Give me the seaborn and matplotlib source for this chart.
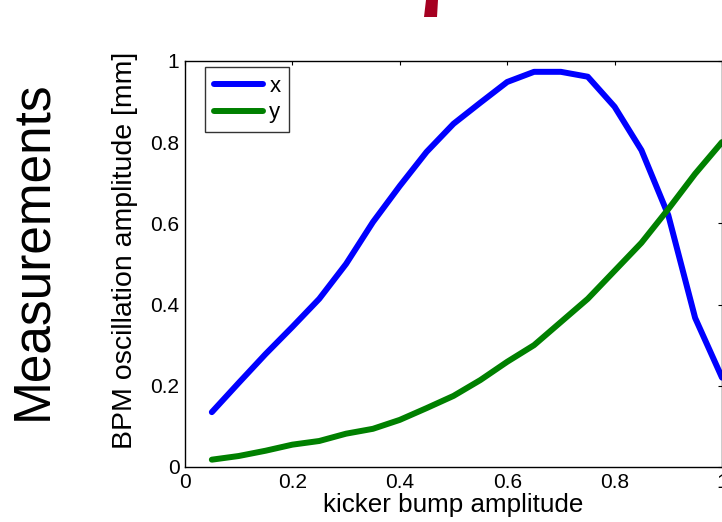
import matplotlib
matplotlib.use("Agg")
import matplotlib.pyplot as plt
from matplotlib.patches import Polygon
import seaborn as sns
import pandas as pd

kicker = [0.05, 0.10, 0.15, 0.20, 0.25, 0.30, 0.35, 0.40, 0.45, 0.50,
          0.55, 0.60, 0.65, 0.70, 0.75, 0.80, 0.85, 0.90, 0.95, 1.00]
amp_x = [0.135, 0.207, 0.278, 0.345, 0.414, 0.500, 0.603, 0.692, 0.776, 0.845,
         0.897, 0.948, 0.973, 0.973, 0.961, 0.887, 0.780, 0.620, 0.367, 0.220]
amp_y = [0.018, 0.027, 0.040, 0.055, 0.064, 0.082, 0.094, 0.116, 0.145, 0.175,
         0.214, 0.259, 0.300, 0.357, 0.414, 0.483, 0.552, 0.635, 0.722, 0.800]
series_names = ["x", "y"]
xticks = [0, 0.2, 0.4, 0.6, 0.8, 1]
yticks = [0, 0.2, 0.4, 0.6, 0.8, 1]
tick_labels = ["0", "0.2", "0.4", "0.6", "0.8", "1"]

df = pd.DataFrame({
    "kicker": kicker * 2,
    "amp": amp_x + amp_y,
    "series": [series_names[0]] * len(kicker) + [series_names[1]] * len(kicker),
})

sns.set_style("white")
plt.rcParams["font.family"] = ["Liberation Sans", "DejaVu Sans"]
plt.rcParams["text.color"] = "black"
plt.rcParams["axes.labelcolor"] = "black"
plt.rcParams["xtick.color"] = "black"
plt.rcParams["ytick.color"] = "black"

fig = plt.figure(figsize=(7.22, 5.22), dpi=100)
ax = fig.add_axes([0.2562, 0.1054, 0.7438, 0.778])

sns.lineplot(data=df, x="kicker", y="amp", hue="series",
             palette={"x": "#0000ff", "y": "#008000"},
             linewidth=4.3, ax=ax, legend=True)

ax.set_xlim(0, 1)
ax.set_ylim(0, 1)
ax.set_xticks(xticks)
ax.set_yticks(yticks)
ax.set_xticklabels(tick_labels, fontsize=15)
ax.set_yticklabels(tick_labels, fontsize=15)
ax.tick_params(direction="in", top=True, right=True, length=3, width=0.8,
               pad=4, colors="black")
for s in ax.spines.values():
    s.set_color("black")
    s.set_linewidth(1.0)

ax.set_xlabel("kicker bump amplitude", fontsize=18.7, labelpad=1)
ax.set_ylabel("BPM oscillation amplitude [mm]", fontsize=20.5, labelpad=9)
ax.yaxis.label.set_y(0.534)

leg = ax.legend(loc="upper left", fontsize=16, frameon=True, fancybox=False,
                edgecolor="black", handlelength=2.2, borderpad=0.4,
                labelspacing=0.25, handletextpad=0.3, borderaxespad=0,
                bbox_to_anchor=(0.037, 0.985))
leg.get_frame().set_linewidth(1.0)
leg.set_title(None)

fig.text(0.046, 0.52, "Measurements", rotation=90, fontsize=37,
         ha="center", va="center")

W, H = 722, 522
pts = [(426, 0), (438, 0), (437, 17), (424, 17)]
poly = Polygon([(px / W, 1 - py / H) for px, py in pts], closed=True,
               transform=fig.transFigure, facecolor="#a50021",
               edgecolor="none")
fig.patches.append(poly)

fig.savefig("out.png", dpi=100)
